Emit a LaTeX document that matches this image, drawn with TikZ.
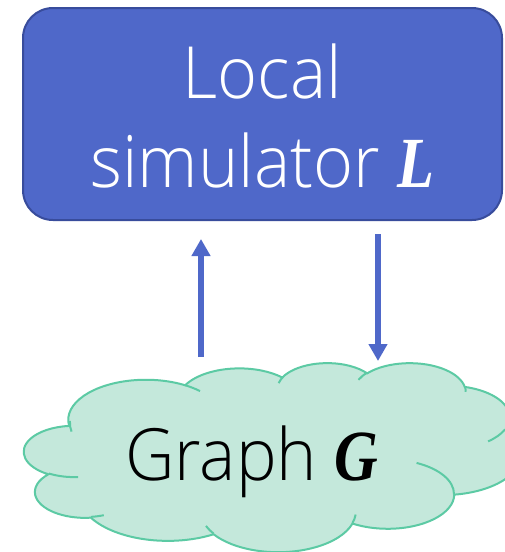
\documentclass[tikz,border=0pt]{standalone}
\usepackage{fontspec}
\setmainfont{Open Sans Light}[FakeStretch=0.95]
\newfontfamily\bifont{Liberation Serif}[FakeStretch=0.84]
\usetikzlibrary{arrows.meta}
\definecolor{boxfill}{RGB}{79,104,201}
\definecolor{boxline}{RGB}{56,76,156}
\definecolor{arrowblue}{RGB}{79,104,201}
\definecolor{cloudfill}{RGB}{196,232,219}
\definecolor{cloudline}{RGB}{92,202,164}
\def\cldkx{11.5}
\def\cldky{4.375}
\newcommand\cldarc[5]{%
  \pgfmathsetmacro\cldtA{atan2((#2)*sin(#4),(#3)*cos(#4))}%
  \pgfmathsetmacro\cldtB{atan2((#2)*sin((#4)+(#5)),(#3)*cos((#4)+(#5)))}%
  \pgfmathsetmacro\cldd{\cldtB-\cldtA-(#5)}%
  \pgfmathsetmacro\cldd{\cldd-360*round(\cldd/360)}%
  \pgfmathsetmacro\cldtB{\cldtA+(#5)+\cldd}%
  \pgfmathsetmacro\cldtA{0-(\cldtA)}%
  \pgfmathsetmacro\cldtB{0-(\cldtB)}%
  \pgfmathsetmacro\cldrx{(#2)*\cldkx}%
  \pgfmathsetmacro\cldry{(#3)*\cldky}%
  \expandafter\xdef\csname Cld#1S\endcsname{\cldtA}%
  \expandafter\xdef\csname Cld#1E\endcsname{\cldtB}%
  \expandafter\xdef\csname Cld#1X\endcsname{\cldrx}%
  \expandafter\xdef\csname Cld#1Y\endcsname{\cldry}%
}
\newcommand\carc[1]{arc[start angle=\csname Cld#1S\endcsname, end angle=\csname Cld#1E\endcsname, x radius=\csname Cld#1X\endcsname pt, y radius=\csname Cld#1Y\endcsname pt]}
\tikzset{
  simbox/.style={draw=boxline, fill=boxfill, line width=2pt, rounded corners=30pt,
    minimum width=479pt, minimum height=212pt, inner sep=0pt, outer sep=0pt},
  whitetext/.style={text=white, inner sep=0pt, font=\fontsize{72}{86}\selectfont},
  blacktext/.style={text=black, inner sep=0pt, font=\fontsize{72}{86}\selectfont},
  flow/.style={draw=arrowblue, line width=6pt, -{Triangle[width=18pt,length=17pt]}},
  cloudbody/.style={fill=cloudfill, draw=cloudline, line width=2pt},
  cloudinner/.style={draw=cloudline, line width=2pt},
}
\begin{document}
\begin{tikzpicture}[x=1pt,y=1pt]
\clip (0,0) rectangle (505,-552);
\fill[white] (0,0) rectangle (505,-552);
% cloud arcs (outer)
\cldarc{oa}{6.753}{9.19}{-190.48748}{123.78053}
\cldarc{ob}{5.333}{7.267}{-144.10238}{89.94523}
\cldarc{oc}{4.365}{5.945}{-145.80792}{99.72302}
\cldarc{od}{4.857}{6.595}{-130.98607}{117.24173}
\cldarc{oe}{5.333}{7.273}{-78.70888}{109.02692}
\cldarc{of}{6.775}{9.22}{-46.26725}{130.269}
\cldarc{og}{5.785}{7.867}{0.62502}{114.03333}
\cldarc{oh}{6.752}{9.215}{22.4516}{115.17255}
\cldarc{oi}{7.72}{10.543}{66.24263}{75.71102}
\cldarc{oj}{4.36}{5.918}{-274.94208}{146.73557}
\cldarc{ok}{4.345}{5.945}{-246.8285}{152.51885}
% inner arcs
\cldarc{ia}{4.345}{5.945}{86.742}{26.4295}
\cldarc{ib}{4.36}{5.918}{73.61047}{11.44747}
\cldarc{ic}{6.752}{9.215}{137.62415}{14.0811}
\cldarc{id}{6.752}{9.215}{6.45327}{15.99835}
\cldarc{ie}{5.785}{7.867}{-70.29235}{70.91737}
\cldarc{ig}{5.333}{7.273}{30.31803}{27.7515}
\cldarc{ih}{4.857}{6.595}{-13.74433}{14.8589}
\cldarc{ii}{4.857}{6.595}{-149.18145}{18.19537}
\cldarc{ij}{4.365}{5.945}{-163.49427}{17.68635}
\cldarc{ik}{6.753}{9.19}{-66.70695}{12.31935}
\cldarc{il}{6.753}{9.19}{163.77168}{20.43722}
\begin{scope}[shift={(24.1,-362.5)}, x=11.5pt, y=-4.375pt]
  \path[cloudbody] (3.9,14.37) \carc{oa} \carc{ob} \carc{oc} \carc{od} \carc{oe}
    \carc{of} \carc{og} \carc{oh} \carc{oi} \carc{oj} \carc{ok} -- cycle;
  \path[cloudinner] (4.693,26.177) \carc{ia}
    (6.928,34.899) \carc{ib}
    (16.478,39.09) \carc{ic}
    (28.827,34.751) \carc{id}
    (34.129,22.954) \carc{ie}
    (41.798,15.354) \carc{ig}
    (38.324,5.426) \carc{ih}
    (29.078,3.952) \carc{ii}
    (22.141,4.72) \carc{ij}
    (14.0,5.192) \carc{ik}
    (4.127,15.789) \carc{il};
\end{scope}
\node[blacktext, anchor=base west] (graph) at (125,-480) {Graph {\bifont\bfseries\itshape G}};
% simulator box
\node[simbox] (sim) at (262.5,-114) {};
\node[whitetext, anchor=base] (simA) at (262.5,-98) {Local};
\node[whitetext, anchor=base] (simB) at (262.5,-187) {simulator {\bifont\bfseries\itshape L}};
% arrows
\coordinate (upS) at (201,-357);
\coordinate (upE) at (201,-239);
\coordinate (dnS) at (378,-234);
\coordinate (dnE) at (378,-361);
\draw[flow] (upS) -- (upE);
\draw[flow] (dnS) -- (dnE);
\end{tikzpicture}
\end{document}
